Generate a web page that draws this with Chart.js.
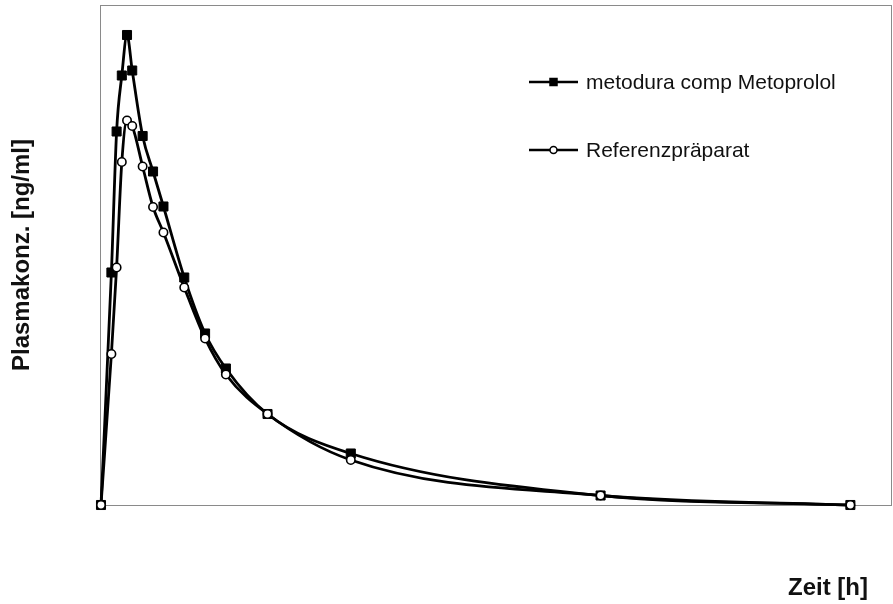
<!DOCTYPE html>
<html>
<head>
<meta charset="utf-8">
<title>Plasmakonzentration</title>
<script src="https://cdn.jsdelivr.net/npm/chart.js@4.4.1/dist/chart.umd.min.js"></script>
<style>
  html, body { margin: 0; padding: 0; background: #fff; }
  #wrap { width: 893px; height: 604px; position: relative; }
</style>
</head>
<body>
<div id="wrap"><canvas id="pkChart"></canvas></div>
<script>
// Sampling times [h]
const times = [0, 0.5, 0.75, 1, 1.25, 1.5, 2, 2.5, 3, 4, 5, 6, 8, 12, 24, 36];

// Plasma concentration (relative units)
const metodura = [0, 46.5, 74.7, 85.9, 94.0, 86.9, 73.8, 66.7, 59.7, 45.5, 34.3, 27.3, 18.2, 10.3, 1.9, 0];
const referenz = [0, 30.2, 47.5, 68.6, 76.9, 75.8, 67.7, 59.6, 54.5, 43.5, 33.3, 26.1, 18.2, 9.0, 1.9, 0];

const seriesLabels = ["metodura comp Metoprolol", "Referenzpräparat"];
const xTitle = "Zeit [h]";
const yTitle = "Plasmakonz. [ng/ml]";

const FONT = "'Liberation Sans', Arial, Helvetica, sans-serif";
Chart.defaults.font.family = FONT;
Chart.defaults.color = "#111";

function toPoints(values) {
  return times.map((t, i) => ({ x: t, y: values[i] }));
}

// Draw a marker like the dataset's points
function marker(ctx, style, x, y, size, fill) {
  ctx.save();
  ctx.lineWidth = 1.5;
  ctx.strokeStyle = "#000";
  ctx.fillStyle = fill;
  ctx.beginPath();
  if (style === "rect") {
    ctx.rect(x - size / 2, y - size / 2, size, size);
  } else {
    ctx.arc(x, y, size / 2, 0, Math.PI * 2);
  }
  ctx.fill();
  ctx.stroke();
  ctx.restore();
}

// Frame around plot area, legend inside it, x title at bottom right
const framePlugin = {
  id: "frameAndLegend",
  beforeDatasetsDraw(chart) {
    const { ctx, chartArea: a } = chart;
    ctx.save();
    ctx.strokeStyle = "#8a8a8a";
    ctx.lineWidth = 1;
    ctx.strokeRect(a.left - 0.5, a.top + 0.5, a.right - a.left, a.bottom - a.top);
    ctx.restore();
  },
  afterDraw(chart) {
    const { ctx } = chart;
    const rows = [
      { y: 82, style: "rect", fill: "#000", size: 7 },
      { y: 150, style: "circle", fill: "#fff", size: 7 },
    ];
    ctx.save();
    rows.forEach((r, i) => {
      ctx.strokeStyle = "#000";
      ctx.lineWidth = 2.5;
      ctx.beginPath();
      ctx.moveTo(529, r.y);
      ctx.lineTo(578, r.y);
      ctx.stroke();
      marker(ctx, r.style, 553.5, r.y, r.size, r.fill);
      ctx.fillStyle = "#111";
      ctx.font = "21px " + FONT;
      ctx.textAlign = "left";
      ctx.textBaseline = "middle";
      ctx.fillText(seriesLabels[i], 586, r.y + 1);
    });
    ctx.font = "bold 24px " + FONT;
    ctx.textAlign = "right";
    ctx.textBaseline = "middle";
    ctx.fillText(xTitle, 868, 588);
    ctx.restore();
  },
};

const ctx = document.getElementById("pkChart").getContext("2d");
new Chart(ctx, {
  type: "line",
  data: {
    datasets: [
      {
        label: seriesLabels[0],
        data: toPoints(metodura),
        borderColor: "#000",
        borderWidth: 2.8,
        pointStyle: "rect",
        pointRadius: 6.4,
        pointBackgroundColor: "#000",
        pointBorderColor: "#000",
        pointBorderWidth: 1,
        cubicInterpolationMode: "monotone",
        clip: false,
        order: 2,
      },
      {
        label: seriesLabels[1],
        data: toPoints(referenz),
        borderColor: "#000",
        borderWidth: 2.8,
        pointStyle: "circle",
        pointRadius: 4.2,
        pointBackgroundColor: "#fff",
        pointBorderColor: "#000",
        pointBorderWidth: 1.6,
        cubicInterpolationMode: "monotone",
        clip: false,
        order: 1,
      },
    ],
  },
  options: {
    responsive: true,
    maintainAspectRatio: false,
    animation: false,
    layout: { autoPadding: false, padding: { top: 5, right: 1, left: 0, bottom: 0 } },
    plugins: {
      legend: { display: false },
      tooltip: { enabled: false },
    },
    scales: {
      x: {
        type: "linear",
        min: 0,
        max: 38,
        grid: { display: false },
        border: { display: false },
        ticks: { display: false },
        afterFit(scale) { scale.height = 99; },
      },
      y: {
        min: 0,
        max: 100,
        grid: { display: false },
        border: { display: false },
        ticks: { display: false },
        title: {
          display: true,
          text: yTitle,
          font: { size: 24, weight: "bold" },
          padding: { top: 8, bottom: 0 },
        },
        afterFit(scale) { scale.width = 101; },
      },
    },
  },
  plugins: [framePlugin],
});
</script>
</body>
</html>
